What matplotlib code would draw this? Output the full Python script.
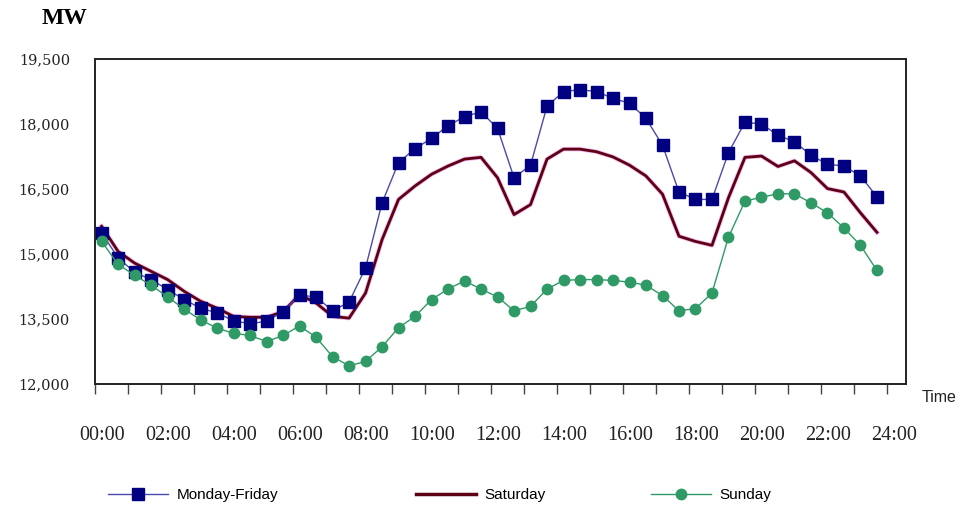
"""Half-hourly load curve (Mon-Fri / Saturday / Sunday) -> out.png"""
import matplotlib
matplotlib.use("Agg")
import matplotlib.pyplot as plt
import numpy as np
from matplotlib.lines import Line2D
from matplotlib.ticker import FuncFormatter
from matplotlib.transforms import ScaledTranslation

# half-hour slots, 00:00 .. 23:30
slots = np.arange(0, 24, 0.5)

weekday = [15490, 14910, 14580, 14410, 14180, 13950, 13750, 13640, 13460, 13390,
           13450, 13670, 14050, 14010, 13690, 13890, 14680, 16180, 17110, 17430,
           17670, 17960, 18170, 18280, 17900, 16760, 17050, 18410, 18750, 18790,
           18750, 18590, 18480, 18130, 17510, 16430, 16260, 16260, 17340, 18040,
           18000, 17740, 17590, 17280, 17070, 17030, 16800, 16320]
saturday = [15640, 15060, 14790, 14600, 14410, 14140, 13910, 13750, 13560, 13540,
            13540, 13670, 14060, 13870, 13560, 13520, 14100, 15330, 16260, 16570,
            16840, 17030, 17190, 17230, 16760, 15910, 16140, 17190, 17420, 17420,
            17360, 17240, 17050, 16800, 16380, 15410, 15290, 15200, 16300, 17230,
            17260, 17020, 17150, 16880, 16510, 16430, 15950, 15500]
sunday = [15290, 14760, 14510, 14280, 14010, 13730, 13480, 13290, 13170, 13120,
          12980, 13120, 13340, 13080, 12630, 12420, 12520, 12860, 13300, 13560,
          13950, 14190, 14380, 14190, 14010, 13690, 13790, 14190, 14390, 14410,
          14410, 14390, 14350, 14280, 14040, 13690, 13740, 14100, 15390, 16220,
          16310, 16390, 16390, 16180, 15950, 15600, 15200, 14620]

yticks = [12000, 13500, 15000, 16500, 18000, 19500]
xlabel_hours = list(range(0, 25, 2))
xlabels = ["%02d:00" % h for h in xlabel_hours]

C_MF_M, C_MF_L = "#000080", "#4a4aae"
C_SAT = "#5c0012"
C_SUN = "#2f9a66"

fig = plt.figure(figsize=(9.67, 5.07), dpi=100)
ax = fig.add_axes([95/967, 1 - 384/507, (906 - 95)/967, (384 - 59)/507])

x = slots + 0.2
ax.plot(x, weekday, color=C_MF_L, lw=1.0, marker="s", ms=8.5, mfc=C_MF_M, mec=C_MF_M, zorder=3)
ax.plot(x, saturday, color="#e060e0", lw=3.2, alpha=0.45, solid_joinstyle="round", zorder=2)
ax.plot(x, saturday, color=C_SAT, lw=2.0, solid_joinstyle="round", zorder=2)
ax.plot(x, sunday, color=C_SUN, lw=1.0, marker="o", ms=7.5, mfc=C_SUN, mec=C_SUN, zorder=3)

ax.set_xlim(0, 24.58)
ax.set_ylim(12000, 19500)
ax.set_yticks(yticks)
ax.yaxis.set_major_formatter(FuncFormatter(lambda v, p: f"{int(v):,}"))
ax.tick_params(axis="y", length=0, pad=18, labelsize=10.5, labelcolor="#222",
               labelfontfamily="DejaVu Serif")

ax.set_xticks(xlabel_hours)
ax.set_xticklabels(xlabels)
ax.set_xticks(range(25), minor=True)
ax.tick_params(axis="x", which="both", length=7, width=1.0, color="#444", direction="out")
ax.tick_params(axis="x", which="major", pad=23, labelsize=14.5, labelcolor="#222",
               labelfontfamily="Liberation Serif")
off = ScaledTranslation(7/100, 0, fig.dpi_scale_trans)
for t in ax.get_xticklabels():
    t.set_transform(t.get_transform() + off)

for s in ax.spines.values():
    s.set_linewidth(1.4)
    s.set_color("#222")

fig.text(42/967, 1 - 18/507, "MW", family="Liberation Serif", fontweight="bold",
         fontsize=17, ha="left", va="center")
fig.text(922/967, 1 - 398/507, "Time", family="Liberation Sans", fontsize=11.5,
         ha="left", va="center", color="#222")

# legend: three separate entries spread across the bottom
entries = [
    (Line2D([], [], color=C_MF_L, lw=1.0, marker="s", ms=8.5, mfc=C_MF_M, mec=C_MF_M), "Monday-Friday", 108),
    (Line2D([], [], color=C_SAT, lw=2.5), "Saturday", 416),
    (Line2D([], [], color=C_SUN, lw=1.0, marker="o", ms=7.5, mfc=C_SUN, mec=C_SUN), "Sunday", 651),
]
for h, lab, px in entries:
    fig.legend([h], [lab], loc="center left", bbox_to_anchor=(px/967, 1 - 495/507),
               frameon=False, handlelength=3.9, handletextpad=0.6, borderpad=0,
               borderaxespad=0, prop={"family": "Liberation Sans", "size": 11})

fig.savefig("out.png", dpi=100)
